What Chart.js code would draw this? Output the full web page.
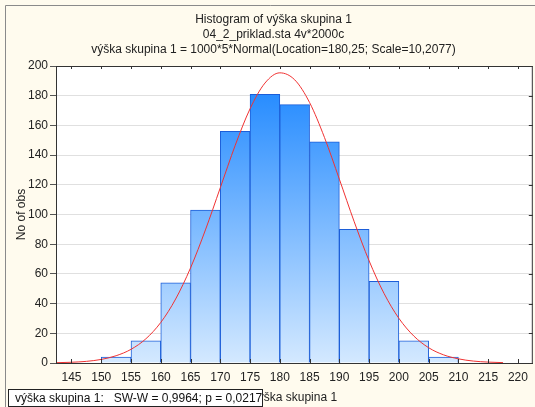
<!DOCTYPE html>
<html>
<head>
<meta charset="utf-8">
<script src="https://cdn.jsdelivr.net/npm/chart.js@4/dist/chart.umd.min.js"></script>
<style>
  html, body { margin: 0; padding: 0; background: #fffbee; }
  #c { display: block; }
</style>
</head>
<body>
<canvas id="c" width="535" height="407"></canvas>
<script>
// histogram bins (lower edge) and counts
const binStart = [150, 155, 160, 165, 170, 175, 180, 185, 190, 195, 200, 205];
const counts   = [4, 15, 54, 103, 156, 181, 174, 149, 90, 55, 15, 4];

// fitted normal curve
const curveX = [142.5, 145, 147.5, 150, 152.5, 155, 157.5, 160, 162.5, 165, 167.5, 170, 172.5, 175, 177.5, 180,
                182.5, 185, 187.5, 190, 192.5, 195, 197.5, 200, 202.5, 205, 207.5, 210, 212.5, 215, 217.5];
const curveY = [0.2, 0.5, 1.1, 2.4, 4.9, 9.2, 16.3, 27.3, 43.1, 64.0, 89.6, 118.0, 146.5, 171.2, 188.5, 195.4,
                190.7, 175.4, 151.9, 123.8, 95.1, 68.8, 46.9, 30.1, 18.2, 10.3, 5.5, 2.8, 1.3, 0.6, 0.25];

const xTicks = [145, 150, 155, 160, 165, 170, 175, 180, 185, 190, 195, 200, 205, 210, 215, 220];
const yTicks = [0, 20, 40, 60, 80, 100, 120, 140, 160, 180, 200];

const titleLines = [
  'Histogram of výška skupina 1',
  '04_2_priklad.sta 4v*2000c',
  'výška skupina 1 = 1000*5*Normal(Location=180,25; Scale=10,2077)'
];
const swText = 'výška skupina 1:   SW-W = 0,9964; p = 0,0217';

Chart.defaults.font.family = '"Liberation Sans", Arial, sans-serif';
Chart.defaults.font.size = 12;
Chart.defaults.color = '#222';

const frame = {
  id: 'frame',
  beforeDraw(chart) {
    const c = chart.ctx, a = chart.chartArea;
    c.save();
    c.fillStyle = '#fffbee';
    c.fillRect(0, 0, chart.width, chart.height);
    c.strokeStyle = '#8a8a8a';
    c.lineWidth = 1;
    c.beginPath();
    c.moveTo(5.5, chart.height); c.lineTo(5.5, 5.5); c.lineTo(chart.width, 5.5);
    c.stroke();
    c.fillStyle = '#ffffff';
    c.fillRect(a.left, a.top, a.right - a.left, a.bottom - a.top);
    c.restore();
  },
  afterDatasetsDraw(chart) {
    const c = chart.ctx, a = chart.chartArea;
    const xs = chart.scales.x, ys = chart.scales.y;
    c.save();
    c.strokeStyle = '#333';
    c.lineWidth = 1;
    c.strokeRect(a.left + 0.5, a.top + 0.5, a.right - a.left - 1, a.bottom - a.top);
    c.beginPath();
    xTicks.forEach(v => {
      const px = Math.round(xs.getPixelForValue(v)) + 0.5;
      c.moveTo(px, a.top); c.lineTo(px, a.top + 3);
      c.moveTo(px, a.bottom); c.lineTo(px, a.bottom - 4);
    });
    yTicks.forEach(v => {
      const py = Math.round(ys.getPixelForValue(v)) + 0.5;
      c.moveTo(a.right, py); c.lineTo(a.right - 4, py);
    });
    c.stroke();
    c.restore();
  },
  afterDraw(chart) {
    const c = chart.ctx;
    c.save();
    c.fillStyle = '#ffffff';
    c.fillRect(8, 389, 255, 18);
    c.strokeStyle = '#222';
    c.lineWidth = 1;
    c.strokeRect(8.5, 389.5, 254, 17);
    c.fillStyle = '#111';
    c.font = '12px "Liberation Sans", Arial, sans-serif';
    c.textBaseline = 'middle';
    c.fillText(swText, 15, 398.5);
    c.restore();
  }
};

function barFill(ctx) {
  const a = ctx.chart.chartArea;
  if (!a) return '#5aa8ff';
  const g = ctx.chart.ctx.createLinearGradient(0, a.bottom, 0, a.top);
  g.addColorStop(0, '#d4e9ff');
  g.addColorStop(1, '#1683ff');
  return g;
}

new Chart(document.getElementById('c'), {
  data: {
    datasets: [
      {
        type: 'line',
        data: curveX.map((x, i) => ({ x: x, y: curveY[i] })),
        borderColor: '#f03232', borderWidth: 1,
        pointRadius: 0, cubicInterpolationMode: 'monotone',
        order: 0
      },
      {
        type: 'bar',
        data: binStart.map((b, i) => ({ x: b + 2.5, y: counts[i] })),
        backgroundColor: barFill,
        borderColor: '#1c5ed8', borderWidth: 1,
        barPercentage: 1, categoryPercentage: 1,
        order: 1
      }
    ]
  },
  options: {
    responsive: false, animation: false,
    layout: { padding: { left: 14, right: 2, top: 0, bottom: 0 } },
    plugins: {
      legend: { display: false },
      tooltip: { enabled: false },
      title: {
        display: true, text: titleLines, color: '#222',
        font: { size: 12, weight: 'normal', lineHeight: 1.25 },
        padding: { top: 12, bottom: 9 }
      }
    },
    scales: {
      x: {
        type: 'linear', min: 142.4, max: 222.5, offset: false,
        afterBuildTicks: s => { s.ticks = xTicks.map(v => ({ value: v })); },
        grid: { offset: false, drawOnChartArea: false, drawTicks: false },
        border: { color: '#333' },
        ticks: { padding: 7, autoSkip: false, maxRotation: 0, color: '#222' },
        title: { display: true, text: 'výška skupina 1', color: '#222', padding: { top: 0, bottom: 2.5 } },
        afterFit: s => { s.height = 44; }
      },
      y: {
        min: 0, max: 200,
        afterBuildTicks: s => { s.ticks = yTicks.map(v => ({ value: v })); },
        grid: { color: '#e0e0e0', tickColor: '#555', tickLength: 6 },
        border: { color: '#333' },
        ticks: { padding: 2, color: '#222' },
        title: { display: true, text: 'No of obs', color: '#222', padding: { top: 0, bottom: 0 } },
        afterFit: s => { s.width = 42; }
      }
    }
  },
  plugins: [frame]
});
</script>
</body>
</html>
